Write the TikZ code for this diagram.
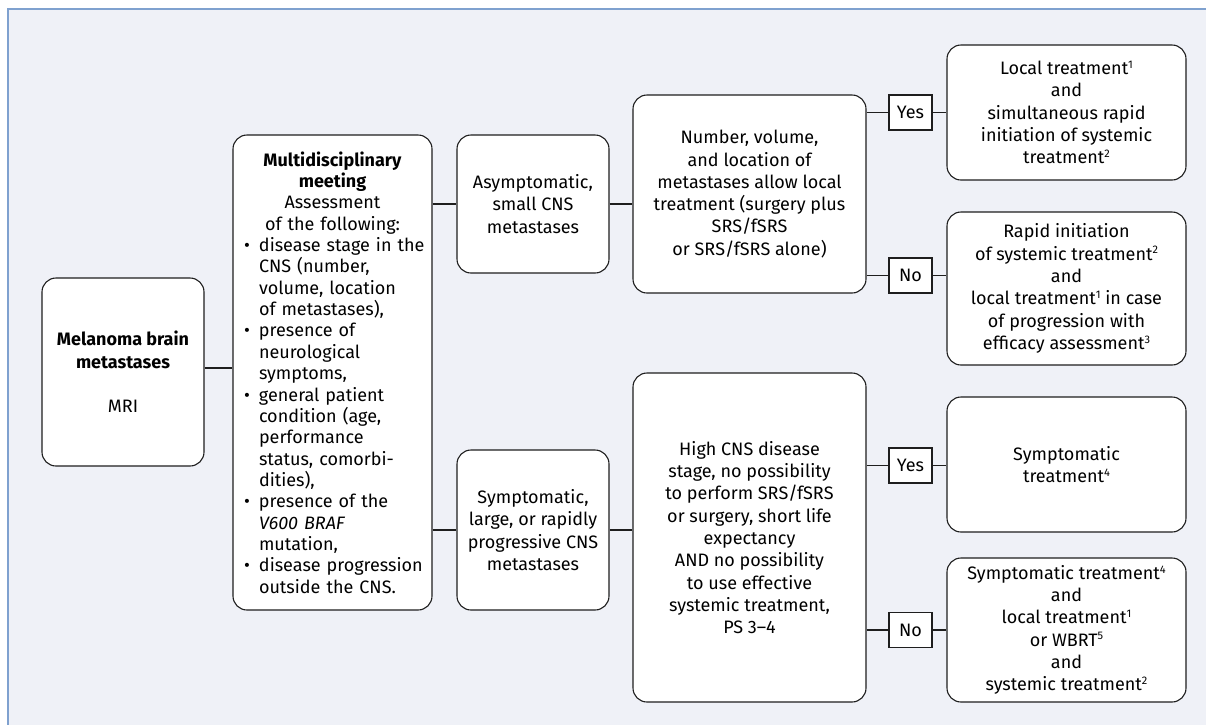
\documentclass[tikz,border=0pt]{standalone}
\usepackage{fontspec}
\setmainfont{Fira Sans}
\definecolor{bgc}{HTML}{EFF1F7}
\definecolor{bordc}{HTML}{7FA1CF}
\definecolor{linec}{HTML}{1E1E1E}
\newcommand\supn[1]{\raisebox{6.3pt}{\fontsize{11}{11}\selectfont #1}}
\newcommand\blt{\par\noindent\hangindent=26pt\hangafter=1\makebox[26pt][l]{\hspace{11pt}\textbullet}}
\tikzset{
  rbox/.style={draw=linec, line width=1.1pt, fill=white, rounded corners=14pt,
    align=center, inner sep=0pt, font=\fontsize{18}{22.3}\selectfont},
  lbl/.style={draw=linec, line width=1.1pt, fill=white, inner sep=0pt,
    minimum width=43pt, minimum height=35pt, font=\fontsize{18}{22.3}\selectfont},
  conn/.style={draw=linec, line width=1.1pt}
}
\begin{document}
\begin{tikzpicture}[x=1pt, y=-1pt]
\useasboundingbox (0,0) rectangle (1206,724);
\fill[bgc] (7.5,8.5) rectangle (1210,730);
\draw[bordc, line width=2pt] (7.5,730) -- (7.5,8.5) -- (1210,8.5);

% nodes
\node[rbox, minimum width=162pt, minimum height=188pt] (mel) at (123,372)
  {\textbf{Melanoma brain}\\\textbf{metastases}\\[22.3pt]MRI};
\node[rbox, align=left, minimum width=199pt, minimum height=475pt, text width=199pt,
  font=\fontsize{18}{21.35}\selectfont] (multi) at (332.5,372.5) {%
  \hyphenpenalty=10000\exhyphenpenalty=10000\hfuzz=20pt%
  {\centering\bfseries Multidisciplinary\\meeting\par}%
  {\centering Assessment\\of the following:\par}%
  \blt disease stage in the\newline CNS (number,\newline volume, location\newline of metastases),%
  \blt presence of\newline neurological\newline symptoms,%
  \blt general patient\newline condition (age,\newline performance\newline status, comorbi-\newline dities),%
  \blt presence of the\newline \textit{V600 BRAF}\newline mutation,%
  \blt disease progression\newline outside the CNS.\par};
\node[rbox, minimum width=152pt, minimum height=138pt] (asym) at (533,204)
  {Asymptomatic,\\small CNS\\metastases};
\node[rbox, minimum width=152pt, minimum height=160pt] (symp) at (533,530)
  {Symptomatic,\\large, or rapidly\\progressive CNS\\metastases};
\node[rbox, minimum width=233pt, minimum height=198pt] (num) at (749.5,194)
  {Number, volume,\\and location of\\metastases allow local\\treatment (surgery plus\\SRS/fSRS\\or SRS/fSRS alone)};
\node[rbox, minimum width=233pt, minimum height=329pt] (high) at (749.5,537.5)
  {High CNS disease\\stage, no possibility\\to perform SRS/fSRS\\or surgery, short life\\expectancy\\AND no possibility\\to use effective\\systemic treatment,\\PS 3–4};
\node[rbox, minimum width=239pt, minimum height=135pt] (loc) at (1066.5,112.5)
  {Local treatment\supn{1}\\and\\simultaneous rapid\\initiation of systemic\\treatment\supn{2}};
\node[rbox, minimum width=239pt, minimum height=153pt] (rapid) at (1066.5,288.5)
  {Rapid initiation\\of systemic treatment\supn{2}\\and\\local treatment\supn{1} in case\\of progression with\\efficacy assessment\supn{3}};
\node[rbox, minimum width=239pt, minimum height=135pt] (symt) at (1066.5,464.5)
  {Symptomatic\\treatment\supn{4}};
\node[rbox, minimum width=239pt, minimum height=144pt] (symt2) at (1066.5,630)
  {Symptomatic treatment\supn{4}\\and\\local treatment\supn{1}\\or WBRT\supn{5}\\and\\systemic treatment\supn{2}};
\node[lbl] (yes1) at (910.5,112.5) {Yes};
\node[lbl] (no1) at (910.5,275.5) {No};
\node[lbl] (yes2) at (910.5,465.5) {Yes};
\node[lbl] (no2) at (910.5,630) {No};

% connectors
\coordinate (melout) at ([yshift=4pt]mel.east);
\draw[conn] (melout) -- (multi.west |- melout);
\draw[conn] (multi.east |- asym.west) -- (asym.west);
\draw[conn] (multi.east |- symp.west) -- (symp.west);
\draw[conn] (asym.east) -- (num.west |- asym.east);
\draw[conn] (symp.east) -- (high.west |- symp.east);
\draw[conn] (num.east |- yes1.west) -- (yes1.west);
\draw[conn] (yes1.east) -- (loc.west |- yes1.east);
\draw[conn] (num.east |- no1.west) -- (no1.west);
\draw[conn] (no1.east) -- (rapid.west |- no1.east);
\draw[conn] (high.east |- yes2.west) -- (yes2.west);
\draw[conn] (yes2.east) -- (symt.west |- yes2.east);
\draw[conn] (high.east |- no2.west) -- (no2.west);
\draw[conn] (no2.east) -- (symt2.west |- no2.east);
\end{tikzpicture}
\end{document}
